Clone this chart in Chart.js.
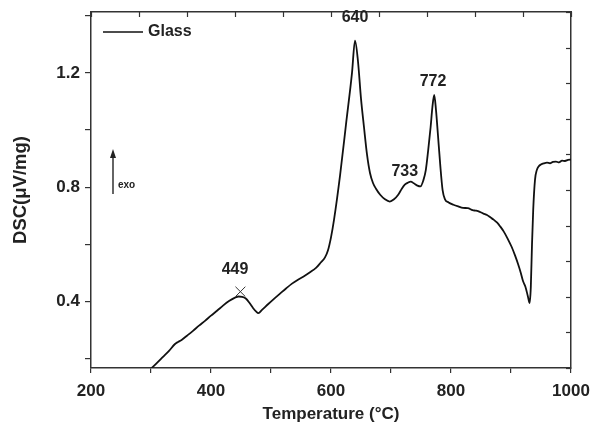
<!DOCTYPE html>
<html>
<head>
<meta charset="utf-8">
<script src="https://cdn.jsdelivr.net/npm/chart.js@4/dist/chart.umd.min.js"></script>
<style>
  body { margin: 0; background: #fff; }
  #wrap { width: 590px; height: 425px; }
</style>
</head>
<body>
<div id="wrap"><canvas id="dsc" width="590" height="425"></canvas></div>
<script>
// DSC curve of the glass sample
const temps = [301, 310, 320, 330, 340, 345, 351, 360, 370, 380, 390, 400, 410, 420, 430, 440, 446, 452, 458, 464,
  470, 475, 479, 485, 495, 505, 515, 525, 535, 545, 555, 565, 575, 583, 590, 595, 600, 605, 615, 625,
  635, 640, 645, 650, 655, 660, 665, 670, 675, 682, 690, 698, 705, 712, 718, 723, 728, 733, 738, 744,
  749, 754, 758, 762, 766, 769, 772, 775, 778, 782, 786, 790, 796, 804, 812, 820, 828, 836, 842, 848,
  854, 860, 866, 871, 877, 882, 888, 895, 901, 907, 912, 916, 920, 924, 928, 931, 933, 935, 937, 940,
  943, 946, 950, 955, 960, 965, 970, 975, 980, 985, 990, 995, 1000];
const dscValues = [0.168, 0.186, 0.207, 0.228, 0.252, 0.259, 0.266, 0.281, 0.298, 0.316, 0.333, 0.351, 0.368, 0.386, 0.402, 0.414, 0.418, 0.417, 0.411, 0.396,
  0.378, 0.366, 0.360, 0.371, 0.391, 0.410, 0.428, 0.446, 0.463, 0.477, 0.489, 0.503, 0.518, 0.537, 0.555, 0.580, 0.625, 0.686, 0.840, 1.020,
  1.200, 1.313, 1.240, 1.110, 1.010, 0.915, 0.850, 0.815, 0.795, 0.774, 0.758, 0.750, 0.758, 0.774, 0.795, 0.809, 0.816, 0.820, 0.814, 0.806,
  0.803, 0.825, 0.860, 0.930, 1.010, 1.080, 1.123, 1.070, 0.990, 0.880, 0.790, 0.758, 0.747, 0.739, 0.733, 0.728, 0.727, 0.720, 0.718, 0.714,
  0.708, 0.703, 0.694, 0.687, 0.676, 0.663, 0.645, 0.618, 0.592, 0.560, 0.530, 0.503, 0.472, 0.452, 0.420, 0.395, 0.450, 0.600, 0.720, 0.826,
  0.860, 0.873, 0.880, 0.884, 0.886, 0.884, 0.889, 0.890, 0.887, 0.893, 0.892, 0.896, 0.897];

// peak labels (text anchor in data units) and the marked onset point
const peakLabels = ['449', '640', '733', '772'];
const peakLabelT = [440, 640, 723, 770];
const peakLabelV = [0.512, 1.392, 0.854, 1.169];
const markT = [449];
const markV = [0.435];

const xTicks = [200, 400, 600, 800, 1000];
const yTicks = [0.4, 0.8, 1.2];

const FONT = '"Liberation Sans", Arial, sans-serif';
const INK = '#222';

const curve = temps.map((t, i) => ({ x: t, y: dscValues[i] }));
const marks = markT.map((t, i) => ({ x: t, y: markV[i] }));

// pin the frame: no extra room for overhanging tick labels
function fixBox(w, h) {
  return s => {
    if (w !== null) s.width = w;
    if (h !== null) s.height = h;
    s.paddingLeft = 0; s.paddingRight = 0; s.paddingTop = 0; s.paddingBottom = 0;
  };
}

const extras = {
  id: 'extras',
  afterDraw(chart) {
    const ctx = chart.ctx;
    const a = chart.chartArea;
    const x = chart.scales.x, y = chart.scales.y;
    ctx.save();
    ctx.strokeStyle = '#333';
    ctx.lineWidth = 1.2;
    // inward ticks on top and right frame
    chart.scales.x2.ticks.forEach(t => {
      const px = Math.round(chart.scales.x2.getPixelForValue(t.value)) + 0.5;
      ctx.beginPath(); ctx.moveTo(px, a.top); ctx.lineTo(px, a.top + 5); ctx.stroke();
    });
    chart.scales.y2.ticks.forEach(t => {
      const py = Math.round(chart.scales.y2.getPixelForValue(t.value)) + 0.5;
      ctx.beginPath(); ctx.moveTo(a.right, py); ctx.lineTo(a.right - 5, py); ctx.stroke();
    });
    // legend
    ctx.strokeStyle = '#111';
    ctx.lineWidth = 1.6;
    ctx.beginPath(); ctx.moveTo(103, 32); ctx.lineTo(143, 32); ctx.stroke();
    ctx.fillStyle = INK;
    ctx.font = 'bold 16px ' + FONT;
    ctx.textBaseline = 'middle';
    ctx.textAlign = 'left';
    ctx.fillText('Glass', 148, 32);
    // exo arrow
    ctx.lineWidth = 1.3;
    ctx.beginPath(); ctx.moveTo(113, 194); ctx.lineTo(113, 156); ctx.stroke();
    ctx.beginPath(); ctx.moveTo(113, 149); ctx.lineTo(110, 158); ctx.lineTo(116, 158); ctx.closePath(); ctx.fill();
    ctx.font = 'bold 10px ' + FONT;
    ctx.fillText('exo', 118, 185);
    // peak labels
    ctx.font = 'bold 16px ' + FONT;
    ctx.textAlign = 'center';
    peakLabels.forEach((s, i) => {
      ctx.fillText(s, x.getPixelForValue(peakLabelT[i]), y.getPixelForValue(peakLabelV[i]));
    });
    ctx.restore();
  }
};

new Chart(document.getElementById('dsc'), {
  type: 'line',
  data: {
    datasets: [
      {
        data: curve,
        borderColor: '#111',
        borderWidth: 1.8,
        pointRadius: 0,
        fill: false,
        cubicInterpolationMode: 'monotone'
      },
      {
        type: 'scatter',
        data: marks,
        pointStyle: 'crossRot',
        pointRadius: 7,
        borderColor: '#333',
        borderWidth: 1,
        showLine: false
      }
    ]
  },
  options: {
    responsive: false,
    animation: false,
    layout: { padding: 0 },
    plugins: { legend: { display: false }, tooltip: { enabled: false } },
    scales: {
      x: {
        type: 'linear', position: 'bottom', min: 200, max: 1000,
        afterFit: fixBox(null, 57),
        border: { color: '#333', width: 1.5 },
        grid: { drawOnChartArea: false, tickLength: 5, color: '#333', lineWidth: 1.2 },
        ticks: {
          stepSize: 100, autoSkip: false, maxRotation: 0, includeBounds: false, padding: 8,
          color: INK, font: { family: FONT, size: 17, weight: 'bold' },
          callback: v => xTicks.includes(v) ? String(v) : ''
        },
        title: {
          display: true, text: 'Temperature (°C)', color: INK,
          font: { family: FONT, size: 17, weight: 'bold' }, padding: { top: 0, bottom: 0 }
        }
      },
      y: {
        type: 'linear', position: 'left', min: 0.168, max: 1.413,
        afterFit: fixBox(91, null),
        border: { color: '#333', width: 1.5 },
        grid: { drawOnChartArea: false, tickLength: 6, color: '#333', lineWidth: 1.2 },
        ticks: {
          stepSize: 0.2, autoSkip: false, includeBounds: false, padding: 5,
          color: INK, font: { family: FONT, size: 17, weight: 'bold' },
          callback: v => yTicks.some(t => Math.abs(t - v) < 1e-6) ? v.toFixed(1) : ''
        },
        title: {
          display: true, text: 'DSC(μV/mg)', color: INK,
          font: { family: FONT, size: 18.5, weight: 'bold' }, padding: { top: 10, bottom: 0 }
        }
      },
      x2: {
        type: 'linear', position: 'top', min: 0, max: 10,
        afterFit: fixBox(null, 12),
        border: { color: '#333', width: 1.5 },
        grid: { drawOnChartArea: false, drawTicks: false },
        ticks: { stepSize: 1, display: false }
      },
      y2: {
        type: 'linear', position: 'right', min: 0, max: 10,
        afterFit: fixBox(19, null),
        border: { color: '#333', width: 1.5 },
        grid: { drawOnChartArea: false, drawTicks: false },
        ticks: { stepSize: 1, display: false }
      }
    }
  },
  plugins: [extras]
});
</script>
</body>
</html>
